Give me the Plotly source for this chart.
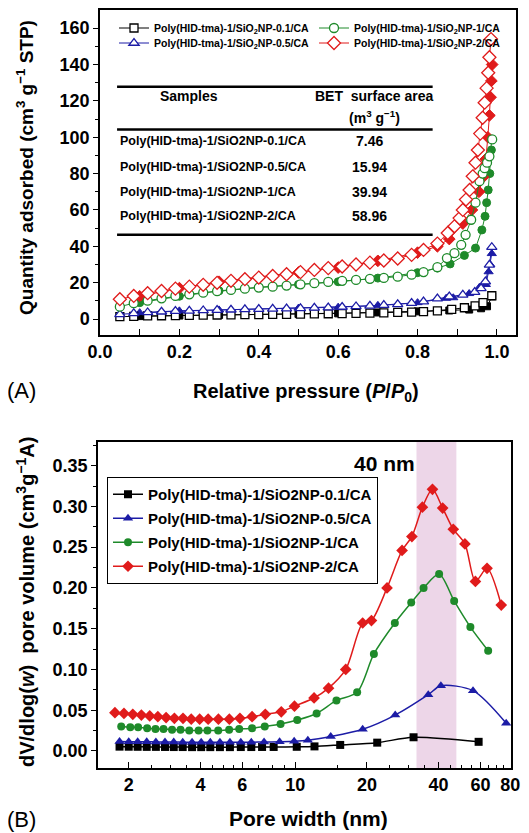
import math
import plotly.graph_objects as go

FONT = "Liberation Sans, Arial, Helvetica, sans-serif"
C_BLACK = "#000000"
C_BLUE = "#1c1ca6"
C_GREEN = "#1e8a2a"
C_RED = "#e01b1b"

# ---------------- Panel A : N2 isotherms ----------------
p_low = [0.05, 0.085, 0.12, 0.155, 0.19, 0.225, 0.26, 0.295, 0.33, 0.365, 0.40, 0.435,
         0.47, 0.505, 0.54, 0.575, 0.61, 0.645, 0.68, 0.715, 0.75, 0.785, 0.815, 0.85]

ads_black_low = [1.3, 1.5, 1.7, 1.8, 1.9, 2.0, 2.1, 2.2, 2.3, 2.4, 2.4, 2.5,
                 2.6, 2.7, 2.8, 2.9, 3.0, 3.1, 3.2, 3.4, 3.6, 3.8, 4.1, 4.5]
ads_black_hi_p = [0.886, 0.918, 0.945, 0.965, 0.987]
ads_black_hi = [5.3, 6.2, 7.2, 9.0, 12.8]

ads_blue_low = [2.6, 3.1, 3.6, 4.0, 4.3, 4.5, 4.7, 4.9, 5.1, 5.3, 5.4, 5.6,
                5.7, 5.9, 6.1, 6.3, 6.6, 6.9, 7.2, 7.6, 8.1, 8.7, 9.6, 11.2]
ads_blue_hi_p = [0.88, 0.914, 0.944, 0.96, 0.971, 0.981, 0.987]
ads_blue_hi = [12.3, 13.3, 14.8, 16.9, 20.6, 29.8, 39.5]

ads_green_low = [6.8, 8.7, 10.1, 11.4, 12.7, 13.6, 14.5, 15.3, 16.0, 16.7, 17.3, 17.8,
                 18.4, 19.1, 19.7, 20.4, 21.0, 21.5, 22.1, 22.6, 23.3, 24.4, 25.8, 28.5]
ads_green_hi_p = [0.874, 0.893, 0.91, 0.921, 0.935, 0.946, 0.956, 0.964, 0.969, 0.975, 0.981, 0.988]
ads_green_hi = [33.5, 36.2, 40.8, 46.3, 54.6, 64.0, 75.8, 80.0, 83.0, 86.0, 89.5, 98.8]

ads_red_low = [10.9, 12.7, 14.2, 15.4, 16.7, 17.8, 18.8, 19.9, 21.0, 21.9, 22.8, 23.7,
               24.6, 25.8, 27.0, 28.0, 28.9, 30.0, 31.0, 32.2, 33.3, 35.3, 38.0, 41.5]
ads_red_hi_p = [0.876, 0.893, 0.906, 0.914, 0.922, 0.931, 0.939, 0.946, 0.952, 0.958,
                0.964, 0.969, 0.974, 0.978, 0.981, 0.985]
ads_red_hi = [47.3, 51.0, 55.5, 60.0, 65.7, 71.0, 78.5, 86.0, 93.0, 102.0,
              110.7, 119.0, 127.0, 135.5, 144.0, 154.0]

des_black_p = [0.988, 0.975, 0.96, 0.93, 0.88, 0.80, 0.70, 0.60, 0.50, 0.40, 0.30, 0.20, 0.10]
des_black = [12.5, 7.0, 5.9, 5.2, 4.7, 4.2, 3.6, 3.1, 2.8, 2.5, 2.2, 1.9, 1.6]
des_blue_p = [0.987, 0.983, 0.979, 0.972, 0.956, 0.93, 0.89, 0.872, 0.80, 0.70, 0.60, 0.50, 0.40, 0.30, 0.20, 0.10]
des_blue = [36.0, 30.0, 26.0, 19.0, 17.5, 14.0, 11.7, 11.4, 9.0, 7.5, 6.5, 6.0, 5.3, 5.0, 4.5, 3.5]
des_green_p = [0.986, 0.982, 0.978, 0.974, 0.97, 0.962, 0.946, 0.918, 0.882, 0.85, 0.80, 0.70, 0.60, 0.50, 0.40, 0.30, 0.20, 0.10]
des_green = [93.0, 80.0, 71.0, 64.0, 56.5, 49.0, 39.0, 35.0, 30.3, 28.0, 25.5, 22.5, 20.5, 19.0, 17.5, 15.5, 12.5, 9.0]
des_red_p = [0.988, 0.986, 0.984, 0.981, 0.977, 0.972, 0.965, 0.955, 0.937, 0.914, 0.88, 0.85, 0.80, 0.70, 0.60, 0.50, 0.40, 0.30, 0.20, 0.10]
des_red = [140.0, 131.0, 122.0, 112.0, 100.0, 88.0, 78.0, 70.0, 60.0, 52.5, 44.0, 40.0, 36.5, 32.0, 28.3, 25.6, 23.0, 20.5, 17.0, 12.5]

names_a = ["Poly(HID-tma)-1/SiO<sub>2</sub>NP-0.1/CA", "Poly(HID-tma)-1/SiO<sub>2</sub>NP-0.5/CA",
           "Poly(HID-tma)-1/SiO<sub>2</sub>NP-1/CA", "Poly(HID-tma)-1/SiO<sub>2</sub>NP-2/CA"]

table_samples = ["Poly(HID-tma)-1/SiO2NP-0.1/CA", "Poly(HID-tma)-1/SiO2NP-0.5/CA",
                 "Poly(HID-tma)-1/SiO2NP-1/CA", "Poly(HID-tma)-1/SiO2NP-2/CA"]
table_bet = ["7.46", "15.94", "39.94", "58.96"]

x_ticks_a = [0.0, 0.2, 0.4, 0.6, 0.8, 1.0]
y_ticks_a = [0, 20, 40, 60, 80, 100, 120, 140, 160]

# ---------------- Panel B : pore size distribution ----------------
w_black = [1.83, 2.0, 2.18, 2.38, 2.6, 2.84, 3.09, 3.37, 3.69, 4.03, 4.4, 4.83, 5.32, 5.91,
           6.54, 7.26, 8.12, 10.15, 12.05, 15.45, 22.1, 31.4, 58.9]
v_black = [0.0053, 0.0052, 0.0051, 0.005, 0.005, 0.0049, 0.0048, 0.0048, 0.0047, 0.0047, 0.0047,
           0.0047, 0.0047, 0.0048, 0.0048, 0.0049, 0.0049, 0.0051, 0.0056, 0.0074, 0.0102, 0.0168, 0.0112]

w_blue = [1.83, 2.0, 2.18, 2.38, 2.6, 2.84, 3.09, 3.37, 3.69, 4.03, 4.4, 4.83, 5.32, 5.91,
          6.54, 7.4, 8.6, 9.9, 11.3, 14.1, 19.2, 26.3, 36.2, 40.9, 55.8, 76.9]
v_blue = [0.0115, 0.0114, 0.0113, 0.0112, 0.0111, 0.011, 0.0109, 0.0108, 0.0107, 0.0106, 0.0106,
          0.0106, 0.0106, 0.0107, 0.0108, 0.011, 0.0113, 0.0118, 0.013, 0.0176, 0.0266, 0.044,
          0.069, 0.080, 0.074, 0.034]

w_green = [1.86, 2.03, 2.19, 2.39, 2.59, 2.80, 3.04, 3.30, 3.59, 3.93, 4.28, 4.75, 5.28, 5.82,
           6.59, 7.45, 8.68, 10.2, 12.3, 14.9, 18.2, 21.4, 26.2, 30.7, 34.6, 40.2, 46.5, 54.4, 64.6]
v_green = [0.030, 0.029, 0.029, 0.028, 0.027, 0.027, 0.026, 0.026, 0.025, 0.025, 0.025, 0.025,
           0.026, 0.027, 0.028, 0.030, 0.033, 0.038, 0.046, 0.062, 0.072, 0.119, 0.157, 0.182,
           0.200, 0.217, 0.184, 0.152, 0.123]

w_red = [1.75, 1.91, 2.08, 2.26, 2.45, 2.65, 2.87, 3.11, 3.38, 3.66, 3.97, 4.31, 4.76, 5.29,
         5.86, 6.59, 7.49, 8.74, 9.93, 12.0, 13.8, 16.3, 19.2, 20.9, 24.3, 28.1, 30.9, 34.2,
         37.7, 41.6, 46.1, 51.6, 57.1, 63.9, 73.3]
v_red = [0.047, 0.046, 0.045, 0.044, 0.043, 0.042, 0.041, 0.040, 0.040, 0.039, 0.039, 0.039,
         0.039, 0.039, 0.040, 0.042, 0.045, 0.048, 0.055, 0.065, 0.077, 0.100, 0.157, 0.160,
         0.200, 0.246, 0.263, 0.299, 0.321, 0.298, 0.272, 0.254, 0.208, 0.224, 0.179]

names_b = ["Poly(HID-tma)-1/SiO2NP-0.1/CA", "Poly(HID-tma)-1/SiO2NP-0.5/CA",
           "Poly(HID-tma)-1/SiO2NP-1/CA", "Poly(HID-tma)-1/SiO2NP-2/CA"]

x_ticks_b = [2, 4, 6, 10, 20, 40, 60, 80]
x_minor_b = [2.5, 3, 3.5, 4.5, 5, 5.5, 7, 8, 9, 15, 25, 30, 35, 45, 50, 55, 65, 70, 75]
y_ticks_b = [0.0, 0.05, 0.10, 0.15, 0.20, 0.25, 0.30, 0.35]
band_nm = [32.3, 47.5]
band_label = "40 nm"

# ---------------- figure geometry (page pixels; the page body has an 8px margin) ----------------
OFF = 8
W, H = 529 - OFF, 833 - OFF
L, R, T, B = 98 - OFF, 13, 10 - OFF, 65
PW, PH = W - L - R, H - T - B


def px(xp):
    return (xp - OFF - L) / PW


def py(yp):
    return (H - B - (yp - OFF)) / PH


fig = go.Figure()

colors = [C_BLACK, C_BLUE, C_GREEN, C_RED]
symbols_a = ["square", "triangle-up", "circle", "diamond"]
sizes_a = [8, 9, 9, 10]
des = [(des_black_p, des_black), (des_blue_p, des_blue), (des_green_p, des_green), (des_red_p, des_red)]
ads = [(ads_black_low, ads_black_hi_p, ads_black_hi), (ads_blue_low, ads_blue_hi_p, ads_blue_hi),
       (ads_green_low, ads_green_hi_p, ads_green_hi), (ads_red_low, ads_red_hi_p, ads_red_hi)]
legend_a = ["legend", "legend3", "legend", "legend3"]

for i in range(4):
    c = colors[i]
    dx, dy = des[i]
    fig.add_trace(go.Scatter(
        x=dx, y=dy, mode="lines+markers", xaxis="x", yaxis="y", showlegend=False,
        line=dict(color=c, width=1),
        marker=dict(symbol=symbols_a[i], size=sizes_a[i] - 1, color=c, line=dict(color=c, width=1))))
for i in range(4):
    c = colors[i]
    low, hp, hv = ads[i]
    fig.add_trace(go.Scatter(
        x=p_low + hp, y=low + hv, mode="lines+markers", xaxis="x", yaxis="y",
        name=names_a[i], legend=legend_a[i],
        line=dict(color=c, width=1),
        marker=dict(symbol=symbols_a[i], size=sizes_a[i], color="white", line=dict(color=c, width=1.3))))

symbols_b = ["square", "triangle-up", "circle", "diamond"]
sizes_b = [8, 9, 8, 9]
series_b = [(w_black, v_black), (w_blue, v_blue), (w_green, v_green), (w_red, v_red)]
for i in range(4):
    c = colors[i]
    wx, vy = series_b[i]
    fig.add_trace(go.Scatter(
        x=wx, y=vy, mode="lines+markers", xaxis="x2", yaxis="y2",
        name=names_b[i], legend="legend2", legendgroup="g%d" % i,
        line=dict(color=c, width=1.5, shape="spline", smoothing=0.8),
        marker=dict(symbol=symbols_b[i], size=sizes_b[i], color=c, line=dict(width=0))))

tickfont = dict(family=FONT, size=18, color="black", weight="bold")
axis_common = dict(showline=True, linecolor="black", linewidth=1.5, mirror=True,
                   showgrid=False, zeroline=False, tickcolor="black", tickwidth=1.3,
                   tickfont=tickfont, automargin=False)

shapes = []
# table rules (panel A)
for yv in [127.8, 104.3, 46.3]:
    shapes.append(dict(type="line", xref="x", yref="y", x0=0.043, x1=0.838, y0=yv, y1=yv,
                       line=dict(color="black", width=2.5)))
# highlighted band (panel B)
shapes.append(dict(type="rect", xref="x2", yref="y2 domain", x0=band_nm[0], x1=band_nm[1],
                   y0=0, y1=1, fillcolor="#edd6e8", line=dict(width=0), layer="below"))

tfont_h = dict(family=FONT, size=14, color="black", weight="bold")
tfont_r = dict(family=FONT, size=12.5, color="black", weight="bold")
tfont_v = dict(family=FONT, size=14, color="black", weight="bold")

ann = []
ann.append(dict(xref="x", yref="y", x=0.224, y=122.5, text="Samples", showarrow=False,
                font=tfont_h, xanchor="center", yanchor="middle"))
ann.append(dict(xref="x", yref="y", x=0.689, y=122.5, text="BET  surface area", showarrow=False,
                font=tfont_h, xanchor="center", yanchor="middle"))
ann.append(dict(xref="x", yref="y", x=0.692, y=111.0, text="(m<sup>3</sup> g<sup>−1</sup>)",
                showarrow=False, font=tfont_h, xanchor="center", yanchor="middle"))
row_y = [97.7, 83.9, 70.1, 56.8]
for i in range(4):
    ann.append(dict(xref="x", yref="y", x=0.045, y=row_y[i], text=table_samples[i], showarrow=False,
                    font=tfont_r, xanchor="left", yanchor="middle"))
    ann.append(dict(xref="x", yref="y", x=0.679, y=row_y[i], text=table_bet[i], showarrow=False,
                    font=tfont_v, xanchor="center", yanchor="middle"))

ann.append(dict(xref="x2", yref="y2", x=math.log10(23.7), y=0.3526, text=band_label, showarrow=False,
                font=dict(family=FONT, size=21, color="black", weight="bold"),
                xanchor="center", yanchor="middle"))

ann.append(dict(xref="paper", yref="paper", x=px(306), y=py(392),
                text="Relative pressure (<i>P</i>/<i>P</i><sub>0</sub>)", showarrow=False,
                font=dict(family=FONT, size=20, color="black", weight="bold"),
                xanchor="center", yanchor="middle"))
ann.append(dict(xref="paper", yref="paper", x=px(308), y=py(818),
                text="Pore width (nm)", showarrow=False,
                font=dict(family=FONT, size=21, color="black", weight="bold"),
                xanchor="center", yanchor="middle"))
ann.append(dict(xref="paper", yref="paper", x=px(25), y=py(168),
                text="Quantity adsorbed (cm<sup>3</sup> g<sup>−1</sup> STP)", showarrow=False,
                textangle=-90, font=dict(family=FONT, size=19, color="black", weight="bold"),
                xanchor="center", yanchor="middle"))
ann.append(dict(xref="paper", yref="paper", x=px(25), y=py(602),
                text="dV/dlog(<i>w</i>)  pore volume (cm<sup>3</sup>g<sup>−1</sup>A)", showarrow=False,
                textangle=-90, font=dict(family=FONT, size=20, color="black", weight="bold"),
                xanchor="center", yanchor="middle"))
ann.append(dict(xref="paper", yref="paper", x=px(21), y=py(390), text="(A)", showarrow=False,
                font=dict(family=FONT, size=22, color="black"), xanchor="center", yanchor="middle"))
ann.append(dict(xref="paper", yref="paper", x=px(21), y=py(819), text="(B)", showarrow=False,
                font=dict(family=FONT, size=22, color="black"), xanchor="center", yanchor="middle"))

fig.update_layout(
    width=W, height=H, margin=dict(l=L, r=R, t=T, b=B, autoexpand=False),
    paper_bgcolor="white", plot_bgcolor="white",
    xaxis=dict(axis_common, domain=[px(100), 1.0], anchor="y", range=[0, 1.048],
               tickvals=x_ticks_a, ticktext=["%.1f" % v for v in x_ticks_a],
               ticks="inside", ticklen=6,
               minor=dict(tickvals=[0.1, 0.3, 0.5, 0.7, 0.9], ticks="inside", ticklen=6,
                          tickcolor="black", tickwidth=1.3, showgrid=False)),
    yaxis=dict(axis_common, domain=[py(335), 1.0], anchor="x", range=[-8.8, 170],
               tickvals=y_ticks_a, ticks="outside", ticklen=5,
               minor=dict(tickvals=[10, 30, 50, 70, 90, 110, 130, 150], ticks="outside", ticklen=3,
                          tickcolor="black", tickwidth=1.2, showgrid=False)),
    xaxis2=dict(axis_common, type="log", domain=[0, px(511)], anchor="y2",
                range=[0.172, math.log10(80) + 0.003],
                tickvals=x_ticks_b, ticktext=[str(v) for v in x_ticks_b],
                ticks="inside", ticklen=6,
                minor=dict(tickvals=x_minor_b, ticks="inside", ticklen=3,
                           tickcolor="black", tickwidth=1.2, showgrid=False)),
    yaxis2=dict(axis_common, domain=[0, py(442)], anchor="x2", range=[-0.0209, 0.379],
                tickvals=y_ticks_b, ticktext=["%.2f" % v for v in y_ticks_b],
                ticks="outside", ticklen=5,
                minor=dict(tickvals=[0.025, 0.075, 0.125, 0.175, 0.225, 0.275, 0.325, 0.375],
                           ticks="outside", ticklen=3, tickcolor="black", tickwidth=1.2,
                           showgrid=False)),
    legend=dict(orientation="h", x=px(114), y=py(28), xanchor="left", yanchor="middle",
                entrywidth=155, entrywidthmode="pixels", bgcolor="rgba(0,0,0,0)",
                font=dict(family=FONT, size=10.5, color="black", weight="bold"),
                borderwidth=0, itemsizing="trace"),
    legend3=dict(orientation="h", x=px(114), y=py(43), xanchor="left", yanchor="middle",
                 entrywidth=155, entrywidthmode="pixels", bgcolor="rgba(0,0,0,0)",
                 font=dict(family=FONT, size=10.5, color="black", weight="bold"),
                 borderwidth=0, itemsizing="trace"),
    legend2=dict(orientation="v", x=px(107), y=py(477), xanchor="left", yanchor="top",
                 bgcolor="white", bordercolor="black", borderwidth=1,
                 traceorder="grouped", tracegroupgap=1.5,
                 font=dict(family=FONT, size=15, color="black", weight="bold"),
                 itemsizing="trace"),
    shapes=shapes, annotations=ann,
)

fig.write_html("out.html")
